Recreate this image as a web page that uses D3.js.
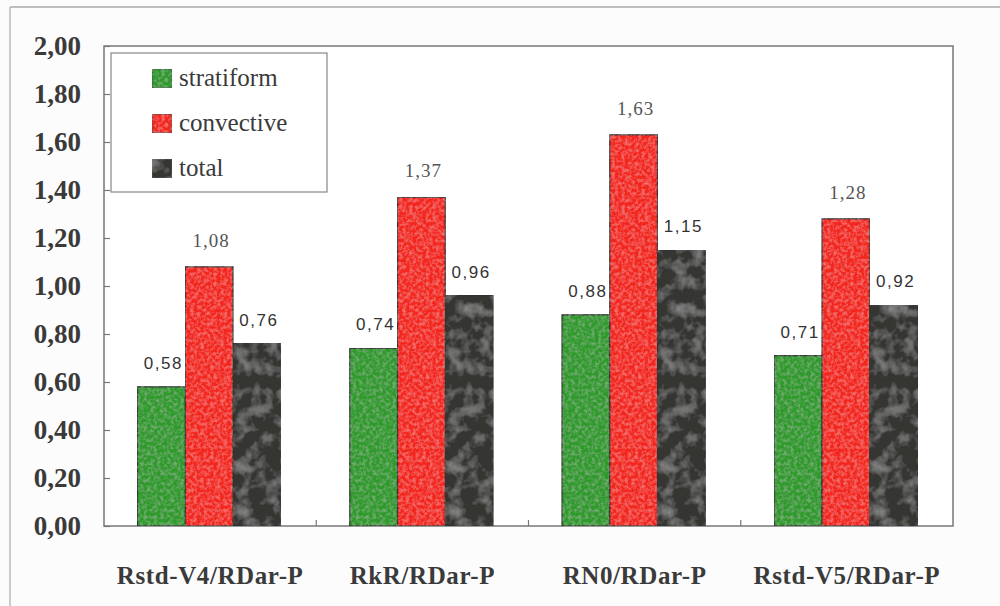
<!DOCTYPE html>
<html>
<head>
<meta charset="utf-8">
<script src="https://cdn.jsdelivr.net/npm/d3@7"></script>
<style>
  body { margin: 0; background: #fcfcfc; }
  svg { display: block; }
</style>
</head>
<body>
<div id="chart"></div>
<script>
// data
var categories = ["Rstd-V4/RDar-P", "RkR/RDar-P", "RN0/RDar-P", "Rstd-V5/RDar-P"];
var seriesNames = ["stratiform", "convective", "total"];
var stratiform = [0.58, 0.74, 0.88, 0.71];
var convective = [1.08, 1.37, 1.63, 1.28];
var total = [0.76, 0.96, 1.15, 0.92];
var yTicks = [0, 0.2, 0.4, 0.6, 0.8, 1.0, 1.2, 1.4, 1.6, 1.8, 2.0];

var W = 1000, H = 606;
var margin = {top: 46, right: 47, bottom: 80, left: 104};
var width = W - margin.left - margin.right,
    height = H - margin.top - margin.bottom;

var svg = d3.select("#chart").append("svg").attr("width", W).attr("height", H);

// textures for the scanned look
var defs = svg.append("defs");
function noiseFilter(id, freq, base, amount, cut) {
    var f = defs.append("filter").attr("id", id).attr("x", 0).attr("y", 0).attr("width", 1).attr("height", 1);
    f.append("feTurbulence").attr("type", "fractalNoise").attr("baseFrequency", freq).attr("numOctaves", 3).attr("seed", 4).attr("result", "noise");
    f.append("feColorMatrix").attr("in", "noise").attr("type", "matrix")
        .attr("values", "0 0 0 0 " + base + "  0 0 0 0 " + base + "  0 0 0 0 " + base + "  " + amount + " 0 0 0 " + (-amount * cut))
        .attr("result", "spots");
    f.append("feComposite").attr("in", "spots").attr("in2", "SourceGraphic").attr("operator", "in").attr("result", "clip");
    var m = f.append("feMerge");
    m.append("feMergeNode").attr("in", "SourceGraphic");
    m.append("feMergeNode").attr("in", "clip");
}
noiseFilter("grainDark", 0.07, 0.45, 1.1, 0.45);
noiseFilter("grainLight", 0.3, 1, 0.35, 0.4);

// outer page frame
svg.append("line").attr("x1", 10).attr("x2", W).attr("y1", 7).attr("y2", 7).style("stroke", "#aaa").style("stroke-width", 1.5);
svg.append("line").attr("x1", 10).attr("x2", 10).attr("y1", 7).attr("y2", H).style("stroke", "#bbb").style("stroke-width", 1.5);

var g = svg.append("g").attr("transform", "translate(" + margin.left + "," + margin.top + ")");

var x0 = d3.scaleBand().domain(categories).range([0, width]).paddingInner(0).paddingOuter(0);
var x1 = d3.scaleBand().domain(seriesNames).range([0, x0.bandwidth() * 0.675]).padding(0);
var groupOffset = (x0.bandwidth() - x1.range()[1]) / 2 - 1;
var y = d3.scaleLinear().domain([0, 2]).range([height, 0]);

var color = {stratiform: "#2f9a2c", convective: "#f2261c", total: "#363533"};
var filters = {stratiform: "url(#grainLight)", convective: "url(#grainLight)", total: "url(#grainDark)"};

// plot area
g.append("rect").attr("width", width).attr("height", height).style("fill", "#fff")
    .style("stroke", "#777").style("stroke-width", 1.5);

// y axis
var yAxis = d3.axisLeft(y).tickValues(yTicks).tickSize(-6).tickPadding(23)
    .tickFormat(function(d) { return d.toFixed(2).replace(".", ","); });
var ya = g.append("g").call(yAxis);
ya.select(".domain").remove();
ya.selectAll("line").style("stroke", "#777").style("stroke-width", 1.2);
ya.selectAll("text").style("font-family", "'Liberation Serif', 'Times New Roman', serif")
    .style("font-weight", "bold").style("font-size", "27px").style("fill", "#3a3a3a");

// x axis, ticks between the groups
var xa = g.append("g").attr("transform", "translate(0," + height + ")")
    .call(d3.axisBottom(x0).tickSize(0).tickPadding(40));
xa.select(".domain").remove();
xa.selectAll("text").style("font-family", "'Liberation Serif', 'Times New Roman', serif")
    .style("font-weight", "bold").style("font-size", "25px").style("letter-spacing", "0.6px").style("fill", "#3a3a3a");
g.append("g").selectAll("line").data(categories.slice(1)).enter().append("line")
    .attr("x1", function(d) { return x0(d); }).attr("x2", function(d) { return x0(d); })
    .attr("y1", height).attr("y2", height - 6).style("stroke", "#777").style("stroke-width", 1.2);

// bars
var rows = categories.map(function(c, i) {
    return {cat: c, values: [
        {key: "stratiform", value: stratiform[i]},
        {key: "convective", value: convective[i]},
        {key: "total", value: total[i]}
    ]};
});

var groups = g.selectAll(".grp").data(rows).enter().append("g").attr("class", "grp")
    .attr("transform", function(d) { return "translate(" + (x0(d.cat) + groupOffset) + ",0)"; });

groups.selectAll("rect").data(function(d) { return d.values; }).enter().append("rect")
    .attr("x", function(d) { return x1(d.key); })
    .attr("y", function(d) { return y(d.value); })
    .attr("width", x1.bandwidth())
    .attr("height", function(d) { return height - y(d.value); })
    .style("fill", function(d) { return color[d.key]; })
    .style("filter", function(d) { return filters[d.key]; })
    .style("stroke", "#333").style("stroke-width", 1.2);

// value labels
groups.selectAll(".val").data(function(d) { return d.values; }).enter().append("text").attr("class", "val")
    .attr("x", function(d) { return x1(d.key) + x1.bandwidth() / 2 + 2; })
    .attr("y", function(d) { return y(d.value) - (d.key == "convective" ? 20 : 18); })
    .attr("text-anchor", "middle")
    .style("font-family", function(d) { return d.key == "convective" ? "'Liberation Serif', serif" : "'Liberation Sans', Arial, sans-serif"; })
    .style("font-size", function(d) { return d.key == "convective" ? "19px" : "17px"; })
    .style("letter-spacing", function(d) { return d.key == "convective" ? "1px" : "1.5px"; })
    .style("fill", function(d) { return d.key == "convective" ? "#555" : "#333"; })
    .text(function(d) { return d.value.toFixed(2).replace(".", ","); });

// legend
var legend = svg.append("g").attr("transform", "translate(111,53)");
legend.append("rect").attr("width", 216).attr("height", 139).style("fill", "#fff")
    .style("stroke", "#888").style("stroke-width", 1.2);
var items = legend.selectAll(".item").data(seriesNames).enter().append("g").attr("class", "item")
    .attr("transform", function(d, i) { return "translate(41," + (16 + i * 45) + ")"; });
items.append("rect").attr("width", 20).attr("height", 19)
    .style("fill", function(d) { return color[d]; })
    .style("filter", function(d) { return filters[d]; })
    .style("stroke", "#555").style("stroke-width", 1);
items.append("text").attr("x", 27).attr("y", 17)
    .style("font-family", "'Liberation Serif', 'Times New Roman', serif")
    .style("font-size", "25px").style("fill", "#3a3a3a")
    .text(function(d) { return d; });
</script>
</body>
</html>
